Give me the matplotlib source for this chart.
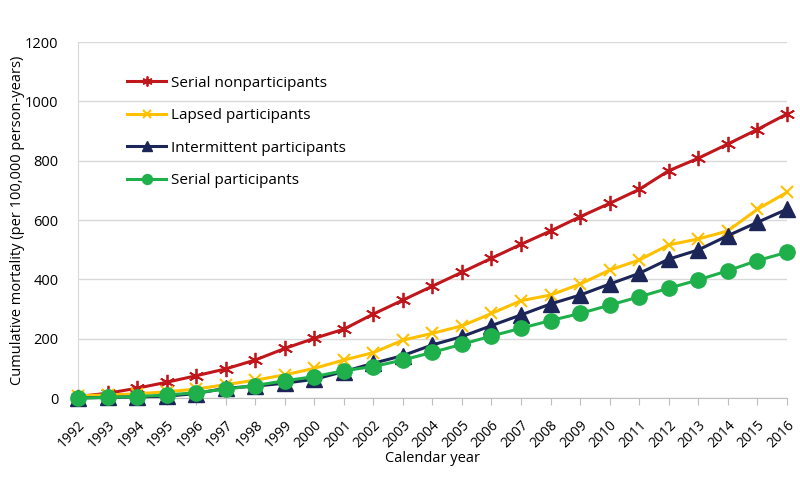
import matplotlib
matplotlib.use("Agg")
import matplotlib.pyplot as plt

plt.rcParams['font.family'] = ['Open Sans', 'DejaVu Sans']

years = list(range(1992, 2017))

# cumulative mortality per 100,000 person-years
serial_nonpart = [5, 16, 33, 53, 75, 98, 128, 167, 201, 232, 283, 330, 377, 424,
                  471, 518, 563, 611, 656, 703, 766, 808, 856, 905, 957]
lapsed_part = [8, 10, 14, 21, 30, 45, 60, 78, 100, 128, 153, 195, 218, 243,
               285, 328, 347, 384, 431, 465, 516, 536, 563, 636, 693]
intermittent_part = [0, 2, 4, 6, 15, 33, 40, 50, 63, 89, 117, 143, 179, 207,
                     244, 280, 317, 347, 384, 420, 468, 499, 547, 592, 636]
serial_part = [0, 2, 5, 10, 18, 30, 42, 58, 72, 92, 106, 128, 154, 181,
               209, 235, 261, 285, 313, 341, 370, 398, 429, 463, 491]

fig = plt.figure(figsize=(8, 5), dpi=100)
ax = fig.add_axes([0.0975, 0.204, 0.886, 0.712])

ax.plot(years, serial_nonpart, color='#C0171C', lw=2.2, marker=(6, 2, 0), ms=11,
        mew=1.3, label='Serial nonparticipants', clip_on=False, zorder=3)
ax.plot(years, lapsed_part, color='#FFC000', lw=2.2, marker='x', ms=9,
        mew=1.5, label='Lapsed participants', clip_on=False, zorder=3)
ax.plot(years, intermittent_part, color='#1B2557', lw=2.2, marker='^', ms=11,
        label='Intermittent participants', clip_on=False, zorder=4)
ax.plot(years, serial_part, color='#1FB04B', lw=2.2, marker='o', ms=11,
        label='Serial participants', clip_on=False, zorder=5)

ax.set_xlim(1992, 2016)
ax.set_ylim(0, 1200)
ax.set_yticks(range(0, 1201, 200))
ax.set_xticks(years)
ax.set_xticklabels([str(y) for y in years], rotation=45, ha='right',
                   rotation_mode='anchor', fontsize=10)
ax.tick_params(axis='y', length=0, labelsize=10.5, pad=14)
ax.tick_params(axis='x', length=5, color='#BFBFBF', direction='out', pad=9)

ax.grid(axis='y', color='#D9D9D9', lw=1)
ax.set_axisbelow(True)
for s in ['top', 'right']:
    ax.spines[s].set_visible(False)
ax.spines['left'].set_color('#D9D9D9')
ax.spines['bottom'].set_color('#BFBFBF')

ax.set_xlabel('Calendar year', fontsize=10.5, labelpad=0)
ax.set_ylabel('Cumulative mortality (per 100,000 person-years)', fontsize=10.5,
              labelpad=0)

ax.legend(loc='upper left', bbox_to_anchor=(0.061, 0.923), frameon=False,
          fontsize=11, handlelength=2.55, labelspacing=1.15, handletextpad=0.3,
          markerscale=0.65, borderaxespad=0)

fig.savefig('out.png', dpi=100)
